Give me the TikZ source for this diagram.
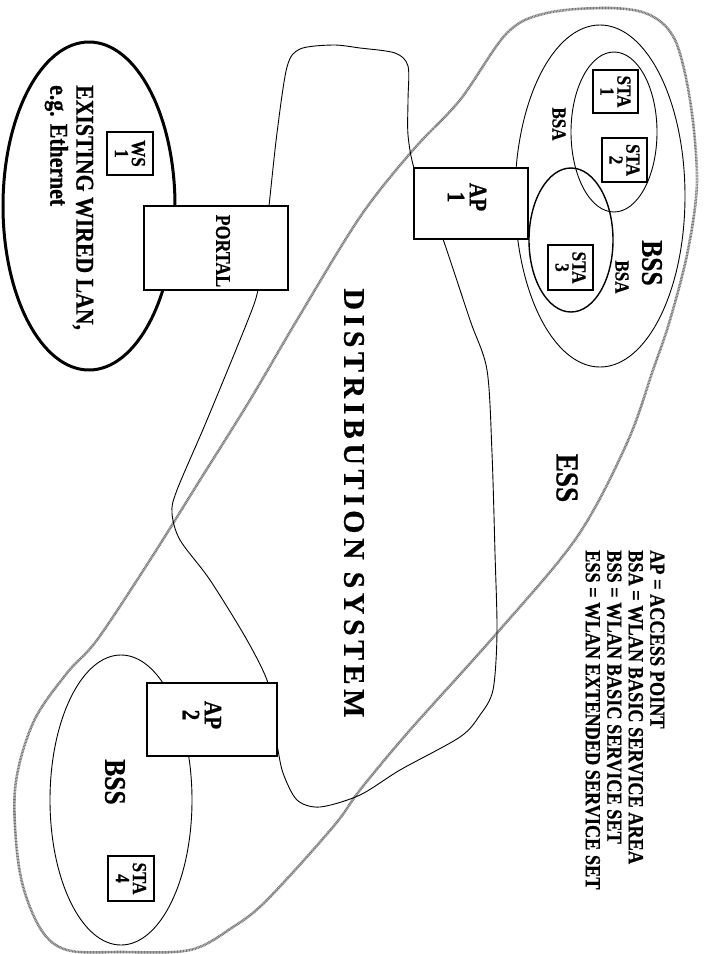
\documentclass[tikz,border=0pt]{standalone}
\usepackage{fontspec}
\setmainfont{Liberation Serif}
\newfontfamily\cf{Liberation Serif}[UprightFont={* Bold}, FakeStretch=0.85, FakeBold=0.6]
\newfontfamily\wf{Liberation Serif}[UprightFont={* Bold}, LetterSpace=15, FakeBold=0.4]
\begin{document}
\begin{tikzpicture}[x=1pt,y=-1pt,
  thinline/.style={line width=0.9pt, line join=round},
  essline/.style={draw=black!55, line width=2.6pt, dash pattern=on 0.9pt off 0.6pt},
  boxshape/.style={draw, fill=white, line width=1.2pt, inner sep=0pt},
  lbl/.style={rotate=-90, inner sep=0pt, align=center, text=black},
  small/.style={lbl, font=\cf\fontsize{20}{17}\selectfont},
  big/.style={lbl, font=\cf\fontsize{30}{30}\selectfont}]
\useasboundingbox (0,0) rectangle (716,954);

% ESS outline
\draw[essline] plot[smooth cycle, tension=0.55] coordinates {
 (507,33) (547,13) (610,8) (650,15) (675,40) (690,100) (697,180) (688,250)
 (670,320) (653,370) (627,443) (577,537) (497,633) (410,730) (360,790)
 (333,827) (267,900) (233,927) (190,950) (120,952) (67,950) (40,928)
 (20,873) (15,790) (33,723) (67,673) (97,640) (150,560) (200,480)
 (250,400) (297,320) (360,217) (413,150) (460,100)};

% Distribution system
\draw[thinline] plot[smooth cycle, tension=0.5] coordinates {
 (264,250) (269,206) (277,133) (287,67) (300,49) (333,45) (360,48) (395,53)
 (408,66) (408,100) (408,135) (414,168) (430,205) (443,239) (470,320)
 (487,370) (492,453) (495,553) (497,633) (493,690) (480,715) (460,737)
 (400,770) (360,795) (320,807) (297,800) (283,773) (277,745) (270,715)
 (268,683) (247,640) (210,580) (180,540) (172,513) (177,490) (207,420)
 (248,320) (258,290)};

% Wired LAN
\draw[line width=3pt] (89,206) ellipse [x radius=86, y radius=164];
% BSS top
\draw[thinline] (600,196) ellipse [x radius=85, y radius=171];
\draw[thinline] (614,132) ellipse [x radius=43, y radius=80];
\draw[line width=1.4pt] (571,240) ellipse [x radius=42, y radius=72];
% BSS bottom
\draw[thinline] (121,800) ellipse [x radius=71, y radius=145];

% boxes
\node[boxshape, minimum width=144, minimum height=84] (portal) at (216,248) {};
\node[boxshape, minimum width=114, minimum height=71] (ap1) at (471,203.5) {};
\node[boxshape, minimum width=130, minimum height=73] (ap2) at (212,719.5) {};
\node[boxshape, minimum width=46, minimum height=43] (ws1) at (130,153.5) {};
\node[boxshape, minimum width=45, minimum height=43] (sta1) at (615.5,91.5) {};
\node[boxshape, minimum width=45, minimum height=44] (sta2) at (624.5,160) {};
\node[boxshape, minimum width=45, minimum height=45] (sta3) at (570.5,267.5) {};
\node[boxshape, minimum width=46, minimum height=45] (sta4) at (131,878.5) {};

% labels
\node[small] (ws1t) at (ws1) {WS\\1};
\node[small] (sta1t) at (sta1) {STA\\1};
\node[small] (sta2t) at (sta2) {STA\\2};
\node[small] (sta3t) at (sta3) {STA\\3};
\node[small] (sta4t) at (sta4) {STA\\4};
\node[lbl, font=\cf\fontsize{25}{22}\selectfont] (ap1t) at (467,197) {AP\\1};
\node[lbl, font=\cf\fontsize{25}{22}\selectfont] (ap2t) at (202,715) {AP\\2};
\node[lbl, font=\cf\fontsize{21}{21}\selectfont] (portalt) at (223,251) {PORTAL};
\node[small] (bsa1) at (559,124) {BSA};
\node[small] (bsa2) at (622,277) {BSA};
\node[big] (bss1) at (652,263) {BSS};
\node[big] (bss2) at (115,782) {BSS};
\node[lbl, font=\cf\fontsize{32}{32}\selectfont] (ess) at (567,478) {ESS};
\node[lbl, font=\wf\fontsize{30}{30}\selectfont] (ds) at (354,503) {DISTRIBUTION SYSTEM};
\node[lbl, anchor=west, align=left, font=\cf\fontsize{25.6}{26}\selectfont] (wired) at (69,85) {EXISTING WIRED LAN,\\e.g. Ethernet};
\node[lbl, anchor=west, align=left, font=\cf\fontsize{21.5}{21.5}\selectfont] (legend) at (625,550)
 {AP = ACCESS POINT\\BSA = WLAN BASIC SERVICE AREA\\BSS = WLAN BASIC SERVICE SET\\ESS = WLAN EXTENDED SERVICE SET};
\end{tikzpicture}
\end{document}
